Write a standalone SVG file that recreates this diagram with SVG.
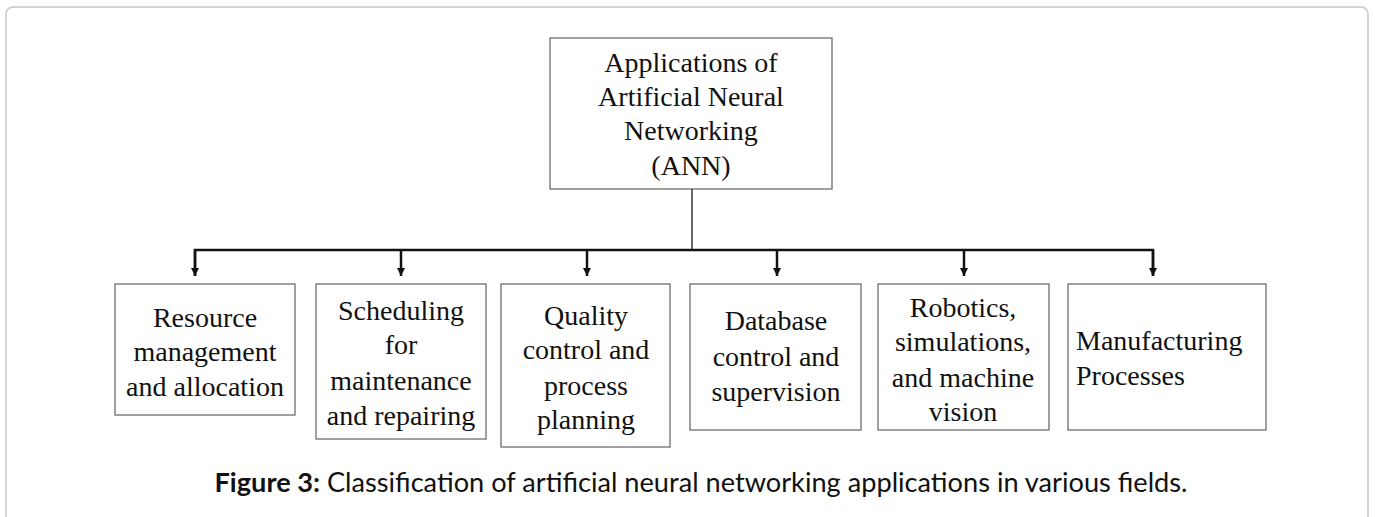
<svg xmlns="http://www.w3.org/2000/svg" width="1375" height="517" viewBox="0 0 1375 517">
<defs>
<style>
.frame{fill:#fff;stroke:#c8c8c8;stroke-width:1.5}
.box{fill:#fff;stroke:#6e6e6e;stroke-width:1.3}
.t{font-family:"Liberation Serif","Times New Roman",serif;font-size:28px;fill:#111;text-anchor:middle}
.tl{font-family:"Liberation Serif","Times New Roman",serif;font-size:28px;fill:#111}
.bus{fill:none;stroke:#111;stroke-width:2.5}
.stem{fill:none;stroke:#444;stroke-width:1.6}
.cap{font-family:Lato,"Open Sans",sans-serif;font-size:27px;fill:#111}
</style>
<marker id="ah" markerWidth="10" markerHeight="10" refX="8" refY="4" orient="auto" markerUnits="userSpaceOnUse">
<path d="M0,0 L8,4 L0,8 Z" fill="#111"/>
</marker>
</defs>
<rect width="1375" height="517" fill="#fff"/>
<rect class="frame" x="6" y="7" width="1362" height="530" rx="7" ry="7"/>

<g id="root">
<rect class="box" x="550" y="38" width="282" height="151"/>
<text class="t" x="691" y="72">Applications of</text>
<text class="t" x="691" y="106">Artificial Neural</text>
<text class="t" x="691" y="140">Networking</text>
<text class="t" x="691" y="175">(ANN)</text>
</g>

<g id="connectors">
<line class="stem" x1="692" y1="189" x2="692" y2="250"/>
<polyline class="bus" points="195,276 195,250 1153,250 1153,276"/>
<line class="bus" x1="195" y1="250" x2="195" y2="276" marker-end="url(#ah)"/>
<line class="bus" x1="401" y1="250" x2="401" y2="276" marker-end="url(#ah)"/>
<line class="bus" x1="587" y1="250" x2="587" y2="276" marker-end="url(#ah)"/>
<line class="bus" x1="777" y1="250" x2="777" y2="276" marker-end="url(#ah)"/>
<line class="bus" x1="964" y1="250" x2="964" y2="276" marker-end="url(#ah)"/>
<line class="bus" x1="1153" y1="250" x2="1153" y2="276" marker-end="url(#ah)"/>
</g>

<g id="n1">
<rect class="box" x="115" y="284" width="180" height="131"/>
<text class="t" x="205" y="327">Resource</text>
<text class="t" x="205" y="361">management</text>
<text class="t" x="205" y="396">and allocation</text>
</g>

<g id="n2">
<rect class="box" x="316" y="284" width="170" height="155"/>
<text class="t" x="401" y="320">Scheduling</text>
<text class="t" x="401" y="354">for</text>
<text class="t" x="401" y="390">maintenance</text>
<text class="t" x="401" y="425">and repairing</text>
</g>

<g id="n3">
<rect class="box" x="501" y="284" width="169" height="163"/>
<text class="t" x="586" y="325">Quality</text>
<text class="t" x="586" y="359">control and</text>
<text class="t" x="586" y="395">process</text>
<text class="t" x="586" y="429">planning</text>
</g>

<g id="n4">
<rect class="box" x="690" y="284" width="171" height="146"/>
<text class="t" x="776" y="330">Database</text>
<text class="t" x="776" y="366">control and</text>
<text class="t" x="776" y="401">supervision</text>
</g>

<g id="n5">
<rect class="box" x="878" y="284" width="171" height="146"/>
<text class="t" x="963" y="317">Robotics,</text>
<text class="t" x="963" y="351">simulations,</text>
<text class="t" x="963" y="387">and machine</text>
<text class="t" x="963" y="421">vision</text>
</g>

<g id="n6">
<rect class="box" x="1068" y="284" width="198" height="146"/>
<text class="tl" x="1076" y="350">Manufacturing</text>
<text class="tl" x="1076" y="385">Processes</text>
</g>

<text class="cap" x="701" y="492" text-anchor="middle" textLength="973" lengthAdjust="spacingAndGlyphs"><tspan font-weight="bold">Figure 3:</tspan> Classification of artificial neural networking applications in various fields.</text>
</svg>
